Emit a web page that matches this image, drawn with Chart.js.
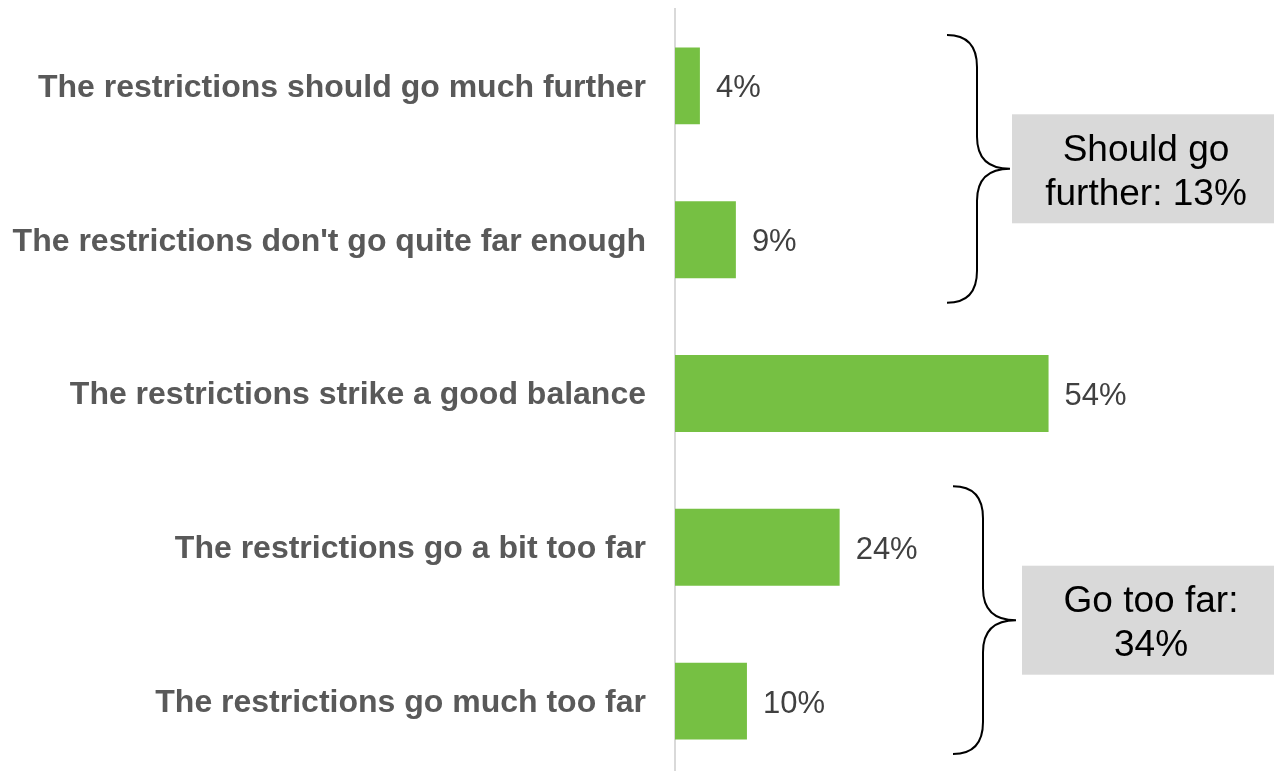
<!DOCTYPE html>
<html>
<head>
<meta charset="utf-8">
<script src="https://cdn.jsdelivr.net/npm/chart.js@4.4.1/dist/chart.umd.min.js"></script>
<style>
  html, body { margin: 0; padding: 0; background: #ffffff; overflow: hidden; }
  #chart { display: block; }
</style>
</head>
<body>
<canvas id="chart" width="1274" height="779"></canvas>
<script>
// Answer categories, top to bottom
const categories = [
  "The restrictions should go much further",
  "The restrictions don't go quite far enough",
  "The restrictions strike a good balance",
  "The restrictions go a bit too far",
  "The restrictions go much too far",
];

// Share of respondents (%)
const shares = [3.6, 8.8, 54.0, 23.8, 10.4];

// Printed value labels
const valueLabels = ["4%", "9%", "54%", "24%", "10%"];

// Bracketed groups: first and last category index, and the box text
const groupStart = [0, 3];
const groupEnd = [1, 4];
const groupText = [
  ["Should go", "further: 13%"],
  ["Go too far:", "34%"],
];

const FONT = "'Liberation Sans', Arial, Helvetica, sans-serif";

// Draws the % label to the right of each bar
const valueLabelPlugin = {
  id: "valueLabels",
  afterDatasetsDraw(chart) {
    const { ctx } = chart;
    const meta = chart.getDatasetMeta(0);
    ctx.save();
    ctx.font = "31px " + FONT;
    ctx.fillStyle = "#404040";
    ctx.textAlign = "left";
    ctx.textBaseline = "middle";
    meta.data.forEach((bar, i) => {
      ctx.fillText(valueLabels[i], bar.x + 16, bar.y + 3);
    });
    ctx.restore();
  },
};

// Curly braces and grey summary boxes on the right
const bracePlugin = {
  id: "braces",
  afterDraw(chart) {
    const { ctx } = chart;
    const y = chart.scales.y;
    const braceX = [947, 953];
    const padTop = [51, 61];
    const padBottom = [63, 53];

    ctx.save();
    groupStart.forEach((start, g) => {
      const top = y.getPixelForValue(start) - padTop[g];
      const bottom = y.getPixelForValue(groupEnd[g]) + padBottom[g];
      const mid = (top + bottom) / 2;
      const x0 = braceX[g];
      const xs = x0 + 30;
      const xt = x0 + 63;
      const r = 32;

      ctx.beginPath();
      ctx.moveTo(x0, top);
      ctx.quadraticCurveTo(xs, top, xs, top + r);
      ctx.lineTo(xs, mid - r);
      ctx.quadraticCurveTo(xs, mid, xt, mid);
      ctx.quadraticCurveTo(xs, mid, xs, mid + r);
      ctx.lineTo(xs, bottom - r);
      ctx.quadraticCurveTo(xs, bottom, x0, bottom);
      ctx.strokeStyle = "#000000";
      ctx.lineWidth = 2;
      ctx.stroke();

      // summary box
      const boxLeft = xt + 2 + g * 4;
      const boxRight = 1274;
      const boxH = 109;
      ctx.fillStyle = "#d9d9d9";
      ctx.fillRect(boxLeft, mid - boxH / 2, boxRight - boxLeft, boxH);

      ctx.fillStyle = "#000000";
      ctx.font = "37px " + FONT;
      ctx.textAlign = "center";
      ctx.textBaseline = "middle";
      const cx = (boxLeft + boxRight) / 2 + 3;
      const lines = groupText[g];
      const lh = 44;
      lines.forEach((line, k) => {
        ctx.fillText(line, cx, mid + 4 + (k - (lines.length - 1) / 2) * lh);
      });
    });
    ctx.restore();
  },
};

const ctx = document.getElementById("chart").getContext("2d");
new Chart(ctx, {
  type: "bar",
  data: {
    labels: categories,
    datasets: [
      {
        data: shares,
        backgroundColor: "#76c043",
        borderWidth: 0,
        barPercentage: 0.5,
        categoryPercentage: 1.0,
      },
    ],
  },
  options: {
    indexAxis: "y",
    responsive: false,
    animation: false,
    devicePixelRatio: 1,
    layout: {
      padding: { top: 9, bottom: 1, left: 0, right: 11 },
    },
    scales: {
      x: {
        display: false,
        min: 0,
        max: 85,
      },
      y: {
        grid: { display: false, drawTicks: false },
        border: { display: true, color: "#d9d9d9", width: 2 },
        ticks: {
          padding: 29,
          labelOffset: 2,
          color: "#595959",
          font: { family: FONT, size: 32, weight: "bold" },
        },
        afterFit(scale) {
          // fixed label column; no extra top/bottom padding for the labels
          scale.width = 675;
          scale.paddingTop = 0;
          scale.paddingBottom = 0;
        },
      },
    },
    plugins: {
      legend: { display: false },
      tooltip: { enabled: false },
      title: { display: false },
    },
  },
  plugins: [valueLabelPlugin, bracePlugin],
});
</script>
</body>
</html>
